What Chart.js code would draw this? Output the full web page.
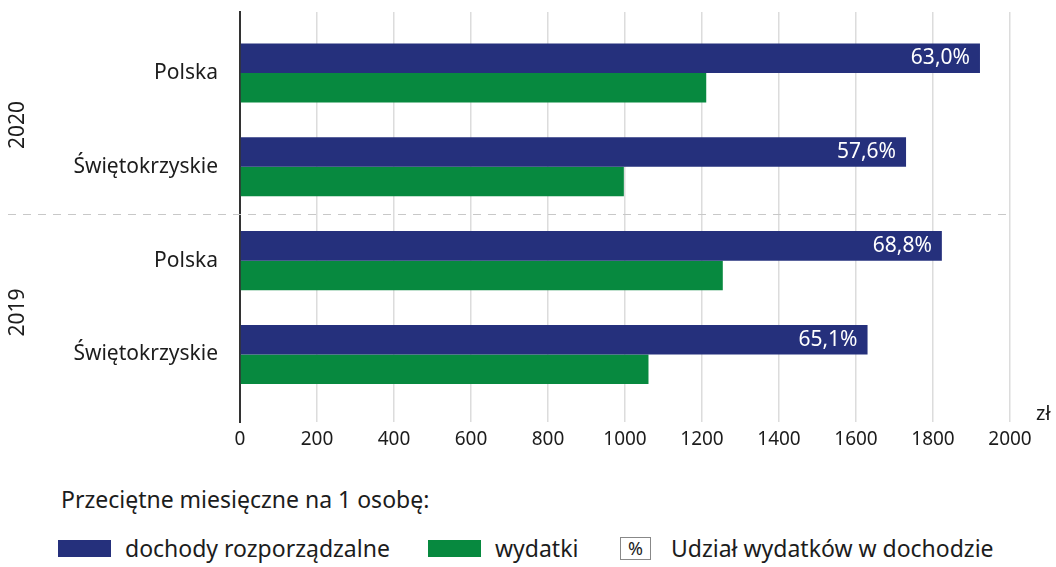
<!DOCTYPE html>
<html lang="pl">
<head>
<meta charset="utf-8">
<script src="https://cdn.jsdelivr.net/npm/chart.js@4/dist/chart.umd.min.js"></script>
<style>
  html, body { margin:0; padding:0; background:#fff; }
  body { width:1056px; height:567px; position:relative; overflow:hidden; font-family:'Noto Sans', sans-serif; color:#1c1c1c; }
  #wrap { position:absolute; left:0; top:0; width:1056px; height:460px; }
  .leg-title { position:absolute; left:61px; top:483px; font-size:23px; }
  .leg-row { position:absolute; top:532px; font-size:23px; display:flex; align-items:center; }
  .sw { display:inline-block; width:53px; height:17px; margin-right:14px; }
  .pct { display:inline-block; border:1px solid #888; font-size:18px; line-height:21px; padding:0 7px; margin-right:20px; }
</style>
</head>
<body>
<div id="wrap"><canvas id="myChart"></canvas></div>
<div class="leg-title">Przeciętne miesięczne na 1 osobę:</div>
<div class="leg-row" style="left:58px"><span class="sw" style="background:#25307c"></span>dochody rozporządzalne</div>
<div class="leg-row" style="left:428px"><span class="sw" style="background:#07893f"></span>wydatki</div>
<div class="leg-row" style="left:620px"><span class="pct">%</span>Udział wydatków w dochodzie</div>
<script>
// dane (zł, przeciętne miesięczne na 1 osobę)
const wiersze   = ['Polska', 'Świętokrzyskie', 'Polska', 'Świętokrzyskie'];
const lata      = ['2020', '2019'];
const dochody   = [1922, 1730, 1823, 1630];
const wydatki   = [1211, 997, 1254, 1061];
const udzialy   = ['63,0%', '57,6%', '68,8%', '65,1%'];
const osX       = [0, 200, 400, 600, 800, 1000, 1200, 1400, 1600, 1800, 2000];

const NIEBIESKI = '#25307c';
const ZIELONY   = '#07893f';
const TEKST     = '#1c1c1c';
const FONT      = "'Noto Sans', sans-serif";

// etykiety % w słupkach, linia podziału lat, opisy lat i jednostka
const dodatki = {
  id: 'dodatki',
  afterDatasetsDraw(chart){
    const ctx = chart.ctx;
    const area = chart.chartArea;
    const y = chart.scales.y;
    ctx.save();
    // linia przerywana między latami
    ctx.strokeStyle = '#c8c8c8';
    ctx.lineWidth = 1.2;
    ctx.setLineDash([8, 7]);
    const yp = Math.round(y.getPixelForValue(1.5)) + 0.5;
    ctx.beginPath();
    ctx.moveTo(8, yp);
    ctx.lineTo(area.right, yp);
    ctx.stroke();
    ctx.setLineDash([]);

    // udział wydatków
    const meta = chart.getDatasetMeta(0);
    ctx.fillStyle = '#fff';
    ctx.font = '21px ' + FONT;
    ctx.textAlign = 'right';
    ctx.textBaseline = 'middle';
    meta.data.forEach((bar, i) => {
      ctx.fillText(udzialy[i], bar.x - 10, bar.y);
    });

    // lata (pionowo)
    ctx.fillStyle = TEKST;
    ctx.font = '21px ' + FONT;
    ctx.textAlign = 'center';
    lata.forEach((rok, g) => {
      const cy = y.getPixelForValue(g * 2 + 0.5) + 5;
      ctx.save();
      ctx.translate(18, cy);
      ctx.rotate(-Math.PI / 2);
      ctx.fillText(rok, 0, 0);
      ctx.restore();
    });

    // jednostka
    ctx.textAlign = 'left';
    ctx.font = '20px ' + FONT;
    ctx.fillText('zł', area.right + 26, area.bottom - 8);
    ctx.restore();
  }
};

new Chart(document.getElementById('myChart'), {
  type: 'bar',
  data: {
    datasets: [
      { label: 'dochody rozporządzalne', data: dochody.map((v, i) => ({x: v, y: i})), backgroundColor: NIEBIESKI },
      { label: 'wydatki', data: wydatki.map((v, i) => ({x: v, y: i})), backgroundColor: ZIELONY }
    ]
  },
  options: {
    indexAxis: 'y',
    responsive: true,
    maintainAspectRatio: false,
    animation: false,
    categoryPercentage: 0.63,
    barPercentage: 1.0,
    layout: { padding: { top: 12, right: 46, left: 0, bottom: 0 } },
    plugins: { legend: { display: false }, tooltip: { enabled: false } },
    scales: {
      x: {
        type: 'linear',
        min: 0, max: 2000,
        afterBuildTicks: s => { s.ticks = osX.map(v => ({value: v})); },
        afterFit: s => { s.height = 38; s.paddingLeft = 0; s.paddingRight = 0; },
        grid: { color: '#dcdcdc', lineWidth: 1.5, tickLength: 0 },
        border: { display: false },
        ticks: { color: TEKST, font: { family: FONT, size: 19 }, padding: 6, maxRotation: 0, callback: v => String(v) }
      },
      y: {
        type: 'linear',
        reverse: true,
        offset: false,
        min: -0.65, max: 3.72,
        afterBuildTicks: s => { s.ticks = wiersze.map((_, i) => ({value: i})); },
        afterFit: s => { s.width = 240; s.paddingTop = 0; s.paddingBottom = 0; },
        grid: { display: false },
        border: { display: true, color: '#333', width: 2 },
        ticks: {
          color: TEKST, font: { family: FONT, size: 21 }, padding: 14,
          callback: v => wiersze[v] || ''
        }
      }
    }
  },
  plugins: [dodatki]
});
</script>
</body>
</html>
